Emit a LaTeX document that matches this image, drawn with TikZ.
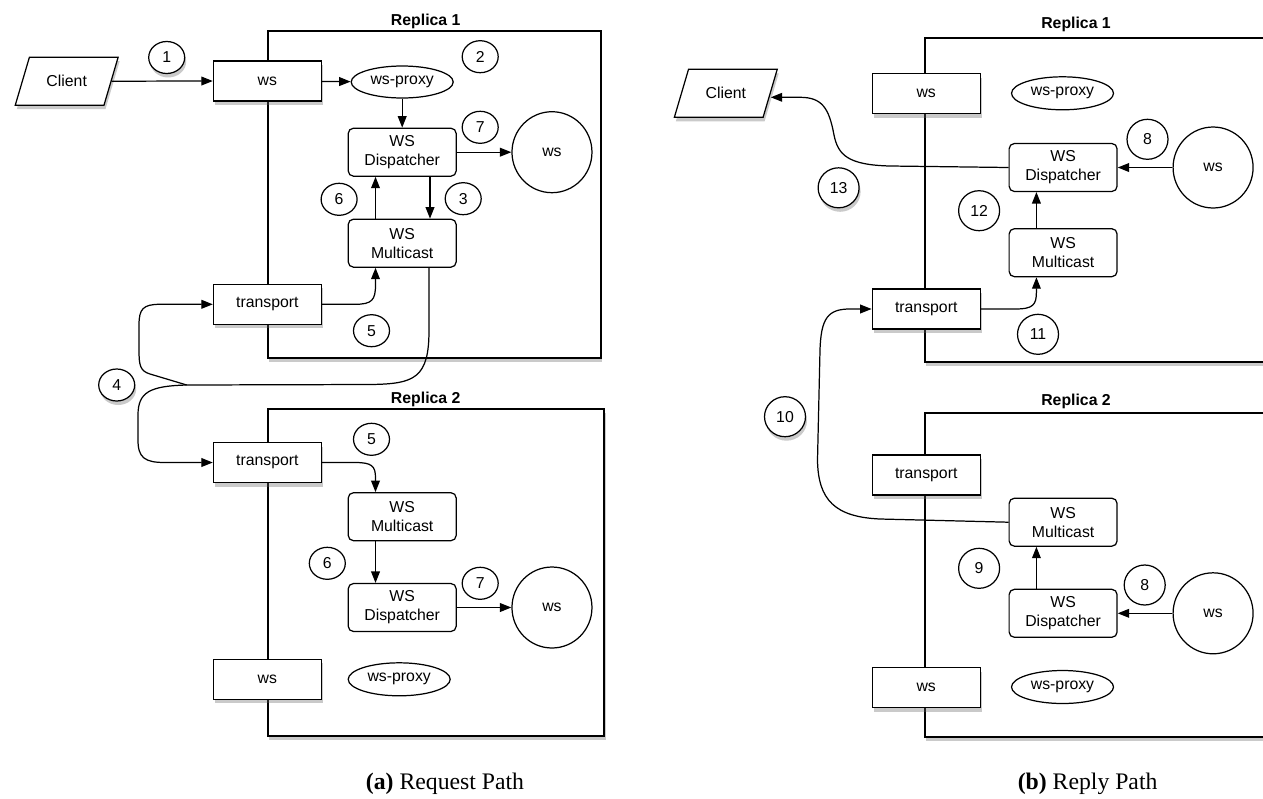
\documentclass[tikz,border=0pt]{standalone}
\usepackage{fontspec}
\setmainfont{Liberation Sans}
\newfontfamily\capfont{Liberation Serif}
\usetikzlibrary{arrows.meta}
\usetikzlibrary{shapes.geometric,shadows}
\usetikzlibrary{positioning}

\tikzset{
  shad/.style={drop shadow={shadow xshift=0.03cm,shadow yshift=-0.08cm,opacity=0.35,fill=black!60}},
  port/.style={draw,fill=white,minimum width=2.16cm,minimum height=0.8cm,shad},
  comp/.style={draw,fill=white,rounded corners=3pt,minimum width=2.16cm,minimum height=0.96cm,align=center},
  proxy/.style={draw,fill=white,ellipse,minimum width=2.04cm,minimum height=0.64cm,inner sep=0pt},
  svc/.style={draw,fill=white,ellipse,minimum width=1.6cm,minimum height=1.62cm,inner sep=0pt},
  num/.style={draw,fill=white,ellipse,minimum width=0.72cm,minimum height=0.64cm,inner sep=0pt},
  bignum/.style={num,minimum width=0.82cm,minimum height=0.8cm},
  client/.style={draw,fill=white,trapezium,trapezium left angle=67,trapezium right angle=113,
    trapezium stretches=true,minimum width=2.06cm,minimum height=0.96cm,shad},
  replica/.style={draw,line width=1.1pt,fill=white,shad},
  title/.style={font=\bfseries\fontsize{9}{11}\selectfont},
  caption/.style={font=\capfont\fontsize{13.5}{16}\selectfont}
}

\begin{document}
\begin{tikzpicture}[x=0.02cm,y=-0.02cm,->,>={Triangle[length=6.5pt,width=5pt]},
    line width=0.7pt,node distance=1.82cm,on grid,
    every node/.style={font=\fontsize{9}{10.8}\selectfont}]
  \useasboundingbox (0,0) rectangle (1263,798);
  \clip (0,0) rectangle (1263,798);

  % (a) request path
  \node[replica,minimum width=6.66cm,minimum height=6.54cm] (repA) at (434.2,194.2) {};
  \node[title] (repAt) at (425.7,21) {Replica 1};
  \node[replica,minimum width=6.73cm,minimum height=6.55cm] (repB) at (435.8,572.4) {};
  \node[title] (repBt) at (425.7,399) {Replica 2};

  \node[client] (cliA) at (66.7,81.2) {Client};
  \node[port] (wsA) at (267.4,81) {ws};
  \node[proxy] (pxA) at (402.2,82) {ws-proxy};
  \node[comp] (dispA) at (402.2,152.2) {WS\\Dispatcher};
  \node[svc] (svcA) [right=2.996cm of dispA] {ws};
  \node[comp] (mcA) [below=of dispA] {WS\\Multicast};
  \node[port] (tpA) at (267.4,304.3) {transport};
  \coordinate (forkA) at (186.7,385);

  \node[port] (tpB) at (267.4,462.5) {transport};
  \node[comp] (mcB) at (402.2,516.7) {WS\\Multicast};
  \node[comp] (dispB) at (402.2,607.5) {WS\\Dispatcher};
  \node[svc] (svcB) [right=2.996cm of dispB] {ws};
  \node[port] (wsB) at (267.4,679.2) {ws};
  \node[proxy,minimum height=0.66cm] (pxB) at (399.2,679.3) {ws-proxy};

  \node[num,shad] (a1) at (166.7,57.5) {1};
  \node[num] (a2) at (480.2,56.7) {2};
  \node[num] (a3) at (463.2,198.7) {3};
  \node[num,shad] (a4) at (116.7,385) {4};
  \node[num] (a5) at (371.5,330.7) {5};
  \node[num] (a6) at (339.1,199.3) {6};
  \node[num] (a7) at (480.2,127.3) {7};
  \node[num] (b5) at (371.5,439.3) {5};
  \node[num] (b6) at (327.3,563.3) {6};
  \node[num] (b7) at (480.2,583.3) {7};

  \path (cliA.east) edge (wsA.west)
        (wsA) edge (pxA)
        (pxA) edge (dispA)
        (dispA) edge (svcA)
        ([xshift=0.556cm]dispA.south) edge ([xshift=0.556cm]mcA.north)
        ([xshift=-0.534cm]mcA.north) edge ([xshift=-0.534cm]dispA.south)
        ([xshift=-0.534cm]mcB.south) edge ([xshift=-0.534cm]dispB.north)
        (dispB) edge (svcB);
  \draw (tpA.east) -- (355,304.3) .. controls (372,304.3) and (375.5,300) .. (375.5,285)
    -- ([xshift=-0.534cm]mcA.south);
  \draw[-] ([xshift=0.534cm]mcA.south) -- (429,330) .. controls (429,378) and (415,384) .. (370,384.5)
    -- (forkA);
  \draw (forkA) -- (150,374) .. controls (140,371) and (139,365) .. (139,350) -- (139,325)
    .. controls (139,309) and (143,304.3) .. (160,304.3) -- (tpA.west);
  \draw (forkA) .. controls (150,386) and (138,392) .. (138,415) -- (138,440)
    .. controls (138,458) and (145,462.5) .. (165,462.5) -- (tpB.west);
  \draw (tpB.east) -- (355,462.5) .. controls (372,462.5) and (375.5,466) .. (375.5,478)
    -- ([xshift=-0.534cm]mcB.north);

  \node[caption] (capA) at (445,784) {\textbf{(a)} Request Path};

  % (b) reply path
  \node[replica,minimum width=7.2cm,minimum height=6.48cm] (repC) at (1104.6,199.7) {};
  \node[title] (repCt) at (1076,24) {Replica 1};
  \node[replica,minimum width=7.2cm,minimum height=6.47cm] (repD) at (1104.6,575) {};
  \node[title] (repDt) at (1076,401) {Replica 2};

  \node[client] (cliC) at (725.8,93.3) {Client};
  \node[port] (wsC) at (926.2,93.7) {ws};
  \node[proxy,minimum height=0.66cm] (pxC) at (1062.5,93.3) {ws-proxy};
  \node[comp] (dispC) at (1063.1,167.5) {WS\\Dispatcher};
  \node[svc] (svcC) [right=3cm of dispC] {ws};
  \node[comp] (mcC) at (1063.1,252.7) {WS\\Multicast};
  \node[port] (tpC) at (926.2,309) {transport};

  \node[port] (tpD) at (926.2,475) {transport};
  \node[comp] (mcD) at (1063.1,522.2) {WS\\Multicast};
  \node[comp] (dispD) at (1063.1,613.3) {WS\\Dispatcher};
  \node[svc] (svcD) [right=3cm of dispD] {ws};
  \node[port] (wsD) at (926.2,687.5) {ws};
  \node[proxy,minimum height=0.66cm] (pxD) at (1062.5,687) {ws-proxy};

  \node[bignum] (c8) at (1147.5,139.3) {8};
  \node[bignum] (c11) at (1038,334.3) {11};
  \node[bignum] (c12) at (979.1,210.7) {12};
  \node[bignum,shad] (c13) at (838.6,187.8) {13};
  \node[bignum] (d8) at (1144.7,585) {8};
  \node[bignum] (d9) at (979.1,568.3) {9};
  \node[bignum,shad] (d10) at (785,416.7) {10};

  \path (svcC) edge (dispC)
        ([xshift=-0.534cm]mcC.north) edge ([xshift=-0.534cm]dispC.south)
        (svcD) edge (dispD)
        ([xshift=-0.534cm]dispD.north) edge ([xshift=-0.534cm]mcD.south);
  \draw (tpC.east) -- (1015,309) .. controls (1033,309) and (1036.4,305) .. (1036.4,292)
    -- ([xshift=-0.534cm]mcC.south);
  \draw (dispC.west) -- (890,166) .. controls (848,165) and (838,155) .. (834,135)
    .. controls (829,108) and (822,97.3) .. (800,97.3) -- ([yshift=-0.08cm]cliC.east);
  \draw (mcD.west) -- (880,519) .. controls (835,517) and (818,500) .. (817.5,460) -- (820,350)
    .. controls (821,318) and (828,309) .. (850,309) -- (tpC.west);

  \node[caption] (capB) at (1087.6,784) {\textbf{(b)} Reply Path};
\end{tikzpicture}
\end{document}
